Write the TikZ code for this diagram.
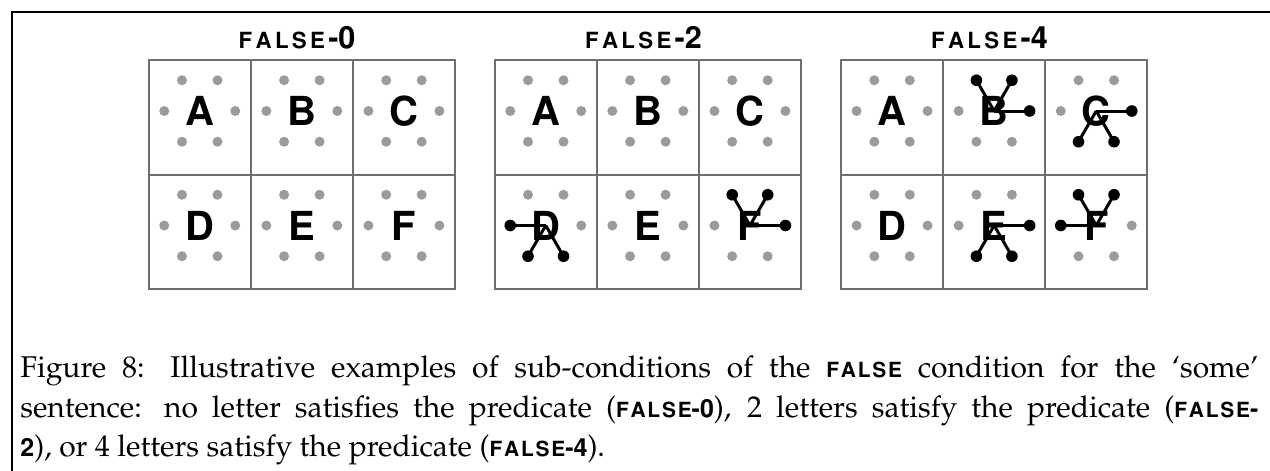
\documentclass[tikz,border=0pt]{standalone}
\usepackage[T1]{fontenc}
\usepackage{mathpazo}
\usepackage{helvet}
\definecolor{dotgray}{RGB}{155,155,155}
\definecolor{gridgray}{RGB}{110,110,110}
\tikzset{
  cellbox/.style={draw=gridgray, line width=1pt},
  graydot/.style={fill=dotgray},
  blackdot/.style={fill=black},
  link/.style={draw=black, line width=1.5pt},
  letter/.style={font=\sffamily\bfseries\fontsize{20}{24}\selectfont, anchor=base, inner sep=0pt},
  gridtitle/.style={font=\sffamily\bfseries, anchor=base west, inner sep=0pt},
  capline/.style={font=\fontsize{15}{20}\selectfont, anchor=base west, inner sep=0pt},
  frameline/.style={draw=black, line width=1pt},
}
\newlength\lsp
\newcommand\flsword{F\kern\lsp A\kern\lsp L\kern\lsp S\kern\lsp E\kern\lsp}
\newcommand\titletext[1]{{\fontsize{11.15}{13}\selectfont\setlength\lsp{1.65pt}\flsword}{\fontsize{15.3}{18}\selectfont -#1}}
\newcommand\capF{{\sffamily\bfseries\fontsize{10.45}{12}\selectfont\setlength\lsp{0.9pt}F\kern\lsp A\kern\lsp L\kern\lsp S\kern\lsp E}}
\newcommand\capD[1]{{\sffamily\bfseries\fontsize{12.5}{15}\selectfont #1}}
\newcommand\drawcell[4]{%
  \foreach \a in {0,60,...,300}
    \fill[graydot] ({#2+35.5*cos(\a)},{#3-35.5*sin(\a)}) circle[radius=5];
  \node[letter] (#1) at (#2,#3+14.7) {#4};
  \coordinate (#1hub) at (#2,#3);
}
\newcommand\linkcell[4]{%
  \foreach \a in {#4} {
    \coordinate (#1d\a) at ({#2+35.5*cos(\a)},{#3-35.5*sin(\a)});
    \draw[link] (#1hub) -- (#1d\a);
    \fill[blackdot] (#1d\a) circle[radius=5.8];
  }
}
\begin{document}
\begin{tikzpicture}[x=0.5pt,y=-0.5pt]
\useasboundingbox (0,0) rectangle (1270,471);
\draw[frameline] (11.5,471) -- (11.5,12) -- (1270,12);
% grids
\foreach \g/\L in {1/148.7,2/494.7,3/841} {
  \foreach \c in {0,1,2} {
    \foreach \r in {0,1} {
      \draw[cellbox] ({\L+102.1*\c},{60+114.5*\r}) rectangle ({\L+102.1*(\c+1)},{60+114.5*(\r+1)});
    }
  }
}
\foreach \g/\L in {1/148.7,2/494.7,3/841} {
  \foreach \ch [count=\i from 0] in {A,B,C,D,E,F} {
    \pgfmathsetmacro\cx{\L+102.1*(mod(\i,3)+0.5)}
    \pgfmathsetmacro\cy{111+114.5*int(\i/3)}
    \drawcell{g\g\ch}{\cx}{\cy}{\ch}
  }
}
% titles
\node[gridtitle] (t1) at (238.3,48) {\titletext{0}};
\node[gridtitle] (t2) at (584.7,48) {\titletext{2}};
\node[gridtitle] (t3) at (930.7,48) {\titletext{4}};
% links: grid 2
\linkcell{g2D}{545.75}{225.5}{180,240,300}
\linkcell{g2F}{749.95}{225.5}{120,60,0}
% links: grid 3
\linkcell{g3B}{994.15}{111}{120,60,0}
\linkcell{g3C}{1096.25}{111}{0,240,300}
\linkcell{g3E}{994.15}{225.5}{0,240,300}
\linkcell{g3F}{1096.25}{225.5}{120,60,180}
% caption
\node[capline] (c1) at (20,377) {\makebox[619pt][s]{Figure 8: Illustrative examples of sub-conditions of the \capF{} condition for the `some'}};
\node[capline] (c2) at (20,417) {\makebox[619pt][s]{sentence: no letter satisfies the predicate (\capF\capD{-0}), 2 letters satisfy the predicate (\capF\capD{-}}};
\node[capline] (c3) at (20,456) {\capD{2}), or 4 letters satisfy the predicate (\capF\capD{-4}).};
\end{tikzpicture}
\end{document}
